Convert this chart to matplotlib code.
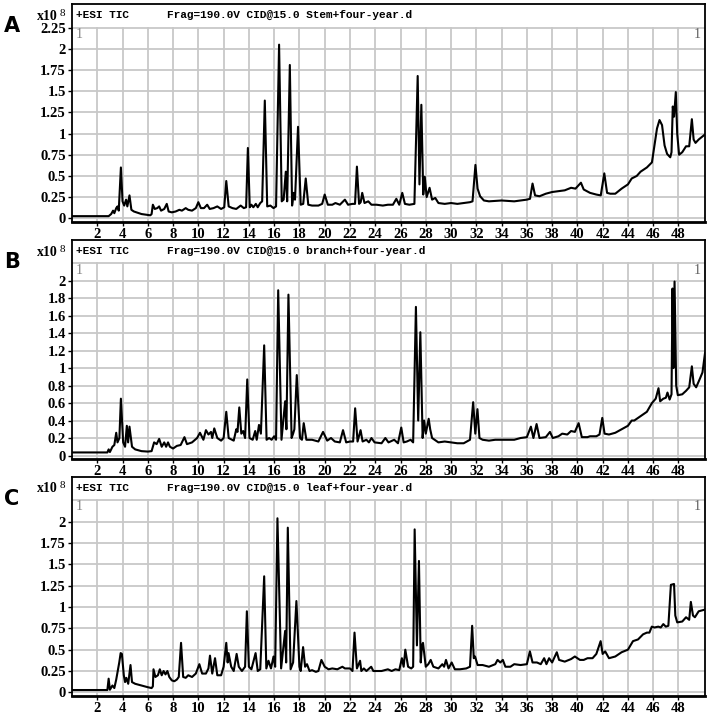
import matplotlib
matplotlib.use("Agg")
import matplotlib.pyplot as plt

# ---------------- data (TIC intensity in units of 1e8, time in min) ----------------
a_time = [0.0, 2.9, 3.1, 3.25, 3.35, 3.5, 3.6, 3.7, 3.87, 4.0, 4.13, 4.28, 4.38, 4.55, 4.7, 4.9, 5.5, 6.2, 6.3, 6.4,
          6.55, 6.75, 6.9, 7.05, 7.3, 7.5, 7.65, 7.9, 8.2, 8.5, 8.7, 9.0, 9.2, 9.5, 9.8, 10.0, 10.2, 10.45, 10.7, 10.9,
          11.2, 11.5, 11.8, 12.05, 12.21, 12.4, 12.7, 13.0, 13.35, 13.6, 13.78, 13.92, 14.07, 14.2, 14.35, 14.55, 14.7,
          14.9, 15.05, 15.26, 15.45, 15.7, 15.95, 16.15, 16.39, 16.6, 16.75, 16.92, 17.03, 17.24, 17.42, 17.55, 17.65,
          17.89, 18.1, 18.3, 18.5, 18.7, 19.0, 19.5, 19.8, 20.0, 20.25, 20.6, 20.85, 21.2, 21.6, 21.85, 22.2, 22.4,
          22.55, 22.72, 22.85, 22.97, 23.15, 23.45, 23.7, 24.1, 24.6, 25.0, 25.4, 25.67, 25.9, 26.14, 26.35, 26.7,
          27.1, 27.36, 27.5, 27.65, 27.8, 27.92, 28.07, 28.3, 28.5, 28.75, 29.0, 29.5, 30.0, 30.5, 31.0, 31.5, 31.7,
          31.93, 32.1, 32.3, 32.6, 33.0, 34.0, 35.0, 36.0, 36.25, 36.45, 36.65, 37.0, 37.5, 38.0, 38.5, 39.0, 39.5,
          39.85, 40.28, 40.5, 41.0, 41.5, 41.85, 42.13, 42.35, 42.6, 43.0, 43.5, 44.0, 44.3, 44.7, 45.0, 45.5, 45.9,
          46.1, 46.3, 46.5, 46.7, 46.9, 47.1, 47.35, 47.45, 47.55, 47.65, 47.79, 47.9, 48.05, 48.3, 48.6, 48.85,
          49.06, 49.2, 49.35, 49.6, 49.85, 50.1]
a_tic = [0.025, 0.025, 0.05, 0.09, 0.06, 0.12, 0.14, 0.09, 0.60, 0.2, 0.15, 0.22, 0.14, 0.27, 0.1, 0.08, 0.05, 0.035,
         0.05, 0.16, 0.11, 0.12, 0.14, 0.09, 0.11, 0.17, 0.08, 0.07, 0.08, 0.1, 0.09, 0.12, 0.1, 0.09, 0.12, 0.19,
         0.12, 0.12, 0.16, 0.11, 0.12, 0.14, 0.11, 0.13, 0.44, 0.14, 0.12, 0.11, 0.15, 0.12, 0.13, 0.83, 0.13, 0.16,
         0.13, 0.17, 0.13, 0.18, 0.2, 1.39, 0.14, 0.15, 0.12, 0.14, 2.05, 0.2, 0.22, 0.55, 0.2, 1.81, 0.15, 0.3,
         0.22, 1.08, 0.16, 0.17, 0.47, 0.16, 0.15, 0.15, 0.17, 0.28, 0.16, 0.16, 0.18, 0.16, 0.22, 0.16, 0.17, 0.17,
         0.61, 0.17, 0.19, 0.30, 0.18, 0.2, 0.16, 0.16, 0.15, 0.16, 0.16, 0.23, 0.16, 0.30, 0.17, 0.16, 0.17, 1.68,
         0.40, 1.34, 0.28, 0.49, 0.25, 0.36, 0.22, 0.24, 0.18, 0.17, 0.18, 0.17, 0.18, 0.19, 0.2, 0.63, 0.35, 0.26,
         0.21, 0.2, 0.21, 0.2, 0.22, 0.23, 0.41, 0.27, 0.26, 0.29, 0.31, 0.32, 0.33, 0.36, 0.35, 0.42, 0.34, 0.30,
         0.28, 0.27, 0.53, 0.3, 0.29, 0.29, 0.35, 0.4, 0.47, 0.5, 0.55, 0.6, 0.66, 0.86, 1.06, 1.16, 1.1, 0.86,
         0.76, 0.72, 0.78, 1.32, 1.2, 1.49, 1.0, 0.75, 0.78, 0.85, 0.85, 1.17, 0.93, 0.89, 0.93, 0.96, 0.99]

b_time = [0.0, 2.8, 2.9, 3.0, 3.2, 3.35, 3.5, 3.6, 3.75, 3.87, 4.05, 4.2, 4.34, 4.44, 4.55, 4.75, 5.0, 5.5, 6.0, 6.3,
          6.5, 6.7, 6.9, 7.1, 7.3, 7.45, 7.6, 7.75, 8.0, 8.3, 8.6, 8.9, 9.1, 9.5, 9.9, 10.13, 10.4, 10.6, 10.8, 11.0,
          11.1, 11.26, 11.5, 11.8, 12.0, 12.21, 12.4, 12.8, 13.0, 13.1, 13.24, 13.4, 13.55, 13.7, 13.87, 14.05, 14.3,
          14.5, 14.62, 14.8, 14.95, 15.21, 15.4, 15.6, 15.8, 16.0, 16.15, 16.32, 16.58, 16.87, 16.97, 17.13, 17.38,
          17.5, 17.6, 17.79, 18.05, 18.2, 18.34, 18.55, 19.0, 19.5, 19.87, 20.2, 20.5, 20.8, 21.2, 21.45, 21.7, 22.0,
          22.25, 22.41, 22.6, 22.84, 23.0, 23.3, 23.5, 23.7, 23.95, 24.5, 24.8, 25.05, 25.5, 25.8, 26.06, 26.25,
          26.5, 26.8, 27.0, 27.22, 27.4, 27.57, 27.75, 27.87, 28.0, 28.23, 28.35, 28.5, 28.7, 29.0, 29.5, 30.0,
          30.5, 31.0, 31.5, 31.75, 31.92, 32.09, 32.25, 32.5, 33.0, 33.5, 34.0, 35.0, 35.5, 36.0, 36.32, 36.52,
          36.77, 37.0, 37.5, 37.83, 38.05, 38.5, 38.8, 39.2, 39.5, 39.8, 40.1, 40.35, 40.8, 41.0, 41.5, 41.75, 41.97,
          42.15, 42.5, 43.0, 43.5, 44.0, 44.3, 44.5, 45.0, 45.5, 45.9, 46.2, 46.42, 46.55, 46.8, 47.0, 47.13, 47.3,
          47.45, 47.53, 47.6, 47.69, 47.82, 47.95, 48.3, 48.6, 48.85, 49.06, 49.2, 49.4, 49.7, 49.9, 50.1]
b_tic = [0.035, 0.035, 0.07, 0.04, 0.1, 0.12, 0.26, 0.15, 0.2, 0.65, 0.15, 0.1, 0.34, 0.15, 0.33, 0.1, 0.07, 0.05,
         0.045, 0.05, 0.15, 0.13, 0.19, 0.1, 0.15, 0.1, 0.15, 0.1, 0.08, 0.11, 0.12, 0.21, 0.13, 0.15, 0.2, 0.26,
         0.18, 0.29, 0.24, 0.27, 0.2, 0.31, 0.2, 0.17, 0.2, 0.5, 0.2, 0.17, 0.3, 0.27, 0.55, 0.25, 0.28, 0.2, 0.87,
         0.2, 0.18, 0.28, 0.18, 0.35, 0.25, 1.26, 0.18, 0.2, 0.18, 0.22, 0.18, 1.89, 0.18, 0.62, 0.3, 1.84, 0.2,
         0.25, 0.3, 0.92, 0.2, 0.18, 0.37, 0.18, 0.18, 0.16, 0.27, 0.17, 0.2, 0.16, 0.15, 0.29, 0.15, 0.16, 0.16,
         0.54, 0.16, 0.29, 0.16, 0.18, 0.15, 0.2, 0.15, 0.14, 0.2, 0.15, 0.18, 0.14, 0.32, 0.15, 0.16, 0.18, 0.15,
         1.70, 0.40, 1.41, 0.2, 0.4, 0.25, 0.42, 0.3, 0.2, 0.18, 0.15, 0.16, 0.15, 0.14, 0.14, 0.18, 0.61, 0.25,
         0.53, 0.2, 0.18, 0.17, 0.18, 0.18, 0.18, 0.2, 0.21, 0.33, 0.2, 0.36, 0.2, 0.21, 0.27, 0.2, 0.22, 0.25,
         0.24, 0.28, 0.27, 0.37, 0.21, 0.21, 0.22, 0.22, 0.24, 0.43, 0.25, 0.24, 0.26, 0.3, 0.34, 0.4, 0.4, 0.45,
         0.5, 0.6, 0.65, 0.77, 0.62, 0.65, 0.66, 0.72, 0.64, 0.7, 1.91, 1.0, 1.99, 0.8, 0.69, 0.7, 0.74, 0.78,
         1.02, 0.82, 0.78, 0.88, 0.95, 1.17]

c_time = [0.0, 2.8, 2.9, 3.0, 3.2, 3.35, 3.5, 3.62, 3.74, 3.85, 3.95, 4.1, 4.2, 4.3, 4.45, 4.63, 4.75, 5.0, 5.5, 6.0,
          6.3, 6.4, 6.45, 6.6, 6.8, 6.95, 7.1, 7.25, 7.4, 7.55, 7.7, 7.9, 8.1, 8.3, 8.45, 8.63, 8.8, 9.0, 9.2, 9.5,
          9.8, 10.08, 10.3, 10.6, 10.8, 10.92, 11.1, 11.32, 11.5, 11.8, 12.0, 12.21, 12.32, 12.39, 12.6, 12.8, 13.03,
          13.2, 13.45, 13.7, 13.84, 14.0, 14.2, 14.53, 14.7, 14.9, 15.21, 15.38, 15.55, 15.75, 15.95, 16.08, 16.26,
          16.55, 16.87, 16.95, 17.08, 17.3, 17.5, 17.76, 18.0, 18.1, 18.29, 18.45, 18.6, 18.8, 19.0, 19.3, 19.5,
          19.74, 20.0, 20.3, 20.6, 21.0, 21.4, 21.6, 22.0, 22.2, 22.36, 22.55, 22.8, 22.9, 23.1, 23.3, 23.68, 23.85,
          24.0, 24.5, 25.0, 25.3, 25.6, 25.9, 26.11, 26.25, 26.38, 26.6, 26.85, 27.0, 27.12, 27.3, 27.46, 27.6,
          27.7, 27.78, 28.0, 28.2, 28.39, 28.6, 29.0, 29.31, 29.45, 29.6, 29.8, 30.05, 30.3, 30.7, 31.2, 31.5,
          31.67, 31.8, 31.9, 32.1, 32.5, 33.0, 33.5, 33.68, 33.9, 34.1, 34.3, 34.7, 35.0, 35.5, 36.0, 36.24, 36.45,
          36.8, 37.1, 37.37, 37.55, 37.76, 38.0, 38.37, 38.55, 39.0, 39.5, 39.8, 40.2, 40.5, 40.8, 41.2, 41.5,
          41.84, 42.0, 42.2, 42.5, 43.0, 43.5, 44.0, 44.4, 44.8, 45.2, 45.5, 45.7, 45.89, 46.1, 46.4, 46.6, 46.8,
          47.0, 47.2, 47.4, 47.65, 47.75, 47.9, 48.3, 48.6, 48.85, 48.98, 49.15, 49.3, 49.6, 50.1]
c_tic = [0.027, 0.027, 0.16, 0.03, 0.08, 0.05, 0.15, 0.25, 0.35, 0.46, 0.45, 0.2, 0.12, 0.17, 0.1, 0.32, 0.12, 0.1,
         0.08, 0.06, 0.05, 0.07, 0.27, 0.18, 0.2, 0.27, 0.2, 0.25, 0.21, 0.25, 0.18, 0.14, 0.13, 0.15, 0.18, 0.58,
         0.18, 0.17, 0.2, 0.18, 0.22, 0.33, 0.22, 0.22, 0.28, 0.43, 0.22, 0.4, 0.2, 0.2, 0.3, 0.58, 0.35, 0.46, 0.3,
         0.25, 0.45, 0.3, 0.25, 0.3, 0.95, 0.3, 0.27, 0.46, 0.25, 0.27, 1.36, 0.28, 0.37, 0.28, 0.42, 0.3, 2.04,
         0.28, 0.72, 0.35, 1.93, 0.27, 0.35, 1.07, 0.3, 0.25, 0.53, 0.3, 0.33, 0.25, 0.26, 0.24, 0.25, 0.38, 0.3,
         0.27, 0.28, 0.27, 0.3, 0.28, 0.28, 0.25, 0.70, 0.28, 0.37, 0.25, 0.28, 0.25, 0.3, 0.25, 0.25, 0.25, 0.27,
         0.25, 0.27, 0.26, 0.40, 0.3, 0.50, 0.3, 0.28, 0.3, 1.91, 0.55, 1.54, 0.35, 0.55, 0.58, 0.3, 0.33, 0.38,
         0.3, 0.28, 0.33, 0.3, 0.38, 0.28, 0.35, 0.27, 0.27, 0.28, 0.3, 0.78, 0.4, 0.42, 0.32, 0.32, 0.3, 0.33,
         0.38, 0.35, 0.38, 0.3, 0.3, 0.33, 0.32, 0.33, 0.48, 0.35, 0.35, 0.33, 0.4, 0.33, 0.4, 0.35, 0.47, 0.38,
         0.36, 0.39, 0.42, 0.38, 0.38, 0.4, 0.4, 0.45, 0.6, 0.45, 0.48, 0.4, 0.42, 0.47, 0.5, 0.6, 0.62, 0.68, 0.7,
         0.7, 0.77, 0.76, 0.77, 0.76, 0.8, 0.77, 0.78, 1.26, 1.27, 0.9, 0.82, 0.83, 0.88, 0.85, 1.06, 0.9, 0.88,
         0.95, 0.97]

x_ticks = list(range(2, 50, 2))
a_yticks = [0, 0.25, 0.5, 0.75, 1, 1.25, 1.5, 1.75, 2, 2.25]
a_ylabels = ["0", "0.25", "0.5", "0.75", "1", "1.25", "1.5", "1.75", "2", "2.25"]
b_yticks = [0, 0.2, 0.4, 0.6, 0.8, 1.0, 1.2, 1.4, 1.6, 1.8, 2.0]
b_ylabels = ["0", "0.2", "0.4", "0.6", "0.8", "1", "1.2", "1.4", "1.6", "1.8", "2"]
c_yticks = [0, 0.25, 0.5, 0.75, 1, 1.25, 1.5, 1.75, 2]
c_ylabels = ["0", "0.25", "0.5", "0.75", "1", "1.25", "1.5", "1.75", "2"]

panel_letters = ["A", "B", "C"]
sample_names = ["Stem+four-year.d", "branch+four-year.d", "leaf+four-year.d"]

# ---------------- figure ----------------
W, H = 709, 716
fig = plt.figure(figsize=(W / 100, H / 100), dpi=100)
fig.patch.set_facecolor("white")

GRID = "#c8c8c8"
TICKFONT = dict(family="Liberation Serif", weight="bold", size=10.5)
HEADFONT = dict(family="Liberation Mono", weight="bold", size=8.0)

# (box top px, box bottom px, ylim bottom, ylim top, top gridline value)
panels = [
    (a_time, a_tic, a_yticks, a_ylabels, 4, 222, -0.044, 2.53, 2.25),
    (b_time, b_tic, b_yticks, b_ylabels, 240, 459, -0.040, 2.465, 2.2),
    (c_time, c_tic, c_yticks, c_ylabels, 477, 696, -0.043, 2.524, 2.25),
]
left_px, right_px = 72, 705

for i, (t, y, yt, yl, top, bot, y0, y1, gtop) in enumerate(panels):
    ax = fig.add_axes([left_px / W, 1 - bot / H, (right_px - left_px) / W, (bot - top) / H])
    ax.set_xlim(0, 50.1)
    ax.set_ylim(y0, y1)
    # grid
    for xv in x_ticks:
        ax.plot([xv, xv], [y0, gtop], color=GRID, lw=1.3, zorder=1)
    for yv in yt + ([gtop] if gtop not in yt else []):
        ax.axhline(yv, color=GRID, lw=1.3, zorder=1)
    ax.plot(t, y, color="black", lw=1.5, zorder=3)

    ax.set_xticks(x_ticks)
    ax.set_xticklabels([str(v) for v in x_ticks], fontdict=TICKFONT)
    ax.set_yticks(yt)
    ax.set_yticklabels(yl, fontdict=TICKFONT)
    ax.tick_params(axis="both", direction="out", length=3, width=1, pad=1.5, color="black")
    for s in ax.spines.values():
        s.set_color("black")
        s.set_linewidth(1.3)
    ax.spines["bottom"].set_linewidth(2.0)

    # header
    ax.text(4 / (right_px - left_px), 1 - 11 / (bot - top), "+ESI TIC", transform=ax.transAxes,
            ha="left", va="center", **HEADFONT)
    ax.text(95 / (right_px - left_px), 1 - 11 / (bot - top),
            "Frag=190.0V CID@15.0 " + sample_names[i], transform=ax.transAxes,
            ha="left", va="center", **HEADFONT)
    # small gray "1" markers
    ax.text(4 / (right_px - left_px), 1 - 30 / (bot - top), "1", transform=ax.transAxes,
            ha="left", va="center", color="#808080", family="Liberation Serif", size=10)
    ax.text(1 - 4 / (right_px - left_px), 1 - 30 / (bot - top), "1", transform=ax.transAxes,
            ha="right", va="center", color="#606060", family="Liberation Serif", size=10)

    # x10^8
    fig.text(37 / W, 1 - (top + 12) / H, "x10", ha="left", va="center",
             family="Liberation Serif", weight="bold", size=10)
    fig.text(60 / W, 1 - (top + 9) / H, "8", ha="left", va="center",
             family="Liberation Serif", size=8)
    # panel letter
    fig.text(12 / W, 1 - (top + 22) / H, panel_letters[i], ha="center", va="center",
             family="DejaVu Sans", weight="bold", size=15)

fig.savefig("out.png", dpi=100, facecolor="white")
